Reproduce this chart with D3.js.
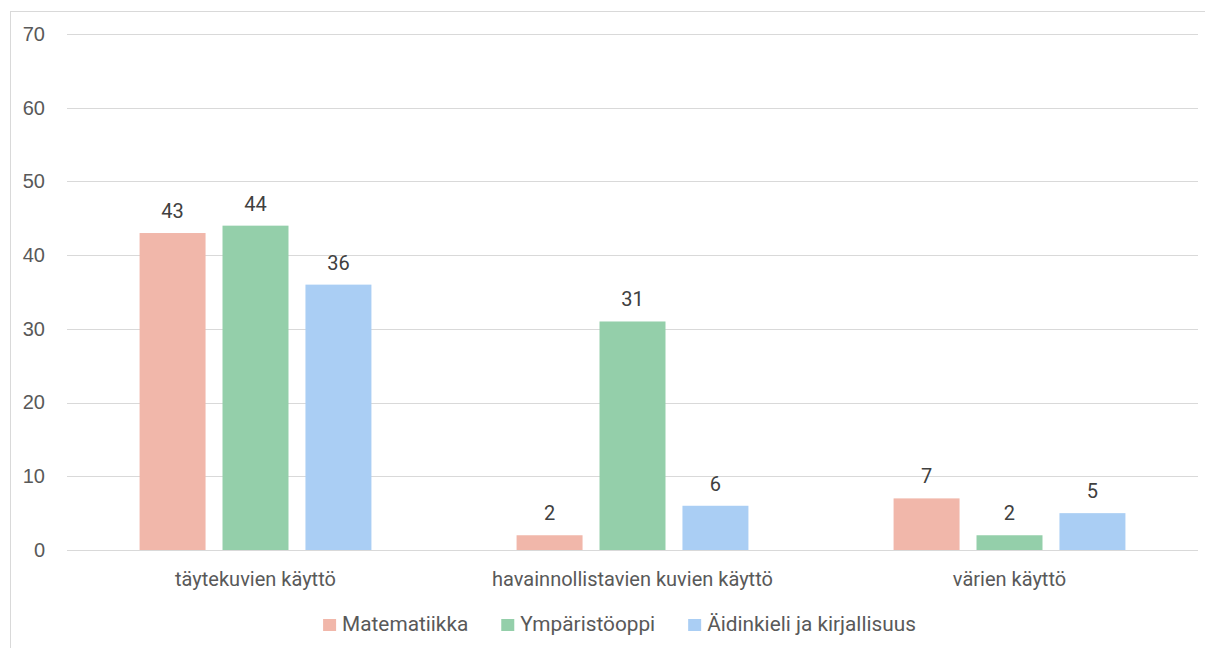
<!DOCTYPE html>
<html>
<head>
<meta charset="utf-8">
<script src="https://cdn.jsdelivr.net/npm/d3@7"></script>
<style>
  html, body { margin: 0; padding: 0; background: #fff; }
  svg { display: block; font-family: Roboto, "Noto Sans", sans-serif; }
</style>
</head>
<body>
<svg id="chart" width="1205" height="648"></svg>
<script>
// Categories and series
const categories = ["täytekuvien käyttö", "havainnollistavien kuvien käyttö", "värien käyttö"];
const seriesNames = ["Matematiikka", "Ympäristöoppi", "Äidinkieli ja kirjallisuus"];
const matematiikka = [43, 2, 7];
const ymparistooppi = [44, 31, 2];
const aidinkieli = [36, 6, 5];
const yTicks = [0, 10, 20, 30, 40, 50, 60, 70];
const colors = ["#F1B7AA", "#94CFAA", "#AACEF4"];

const seriesValues = [matematiikka, ymparistooppi, aidinkieli];
const data = categories.map((c, i) => ({
  category: c,
  values: seriesNames.map((s, j) => ({ series: s, value: seriesValues[j][i], idx: j }))
}));

const svg = d3.select("#chart");
const W = 1205, H = 648;
const margin = { left: 67, right: 7, top: 34, bottom: 98 };
const textColor = "#595959";
const fontSize = "20px";

// Chart frame
svg.append("rect")
  .attr("x", 10.5).attr("y", 11.5)
  .attr("width", W).attr("height", H)
  .attr("fill", "none").attr("stroke", "#D9D9D9").attr("stroke-width", 1);

const x0 = d3.scaleBand()
  .domain(categories)
  .range([margin.left, W - margin.right])
  .paddingInner(0)
  .paddingOuter(0);

const y = d3.scaleLinear()
  .domain([0, 70])
  .range([H - margin.bottom, margin.top]);

// Bars: 66px wide with 17px gaps inside each group
const bandW = x0.bandwidth();
const barW = bandW * 0.175;
const gapW = bandW * 0.045;
const groupW = 3 * barW + 2 * gapW;
const x1 = d3.scaleBand()
  .domain(d3.range(3))
  .range([0, groupW])
  .paddingInner(gapW / (barW + gapW))
  .paddingOuter(0);

// Gridlines and value axis
const yAxis = d3.axisLeft(y)
  .tickValues(yTicks)
  .tickSize(-(W - margin.right - margin.left))
  .tickPadding(22)
  .tickFormat(d3.format("d"));

const gAxis = svg.append("g")
  .attr("transform", `translate(${margin.left},0)`)
  .call(yAxis);
gAxis.select(".domain").remove();
gAxis.selectAll(".tick line")
  .attr("stroke", "#D9D9D9").attr("stroke-width", 1)
  .attr("shape-rendering", "crispEdges");
gAxis.selectAll(".tick text")
  .attr("fill", textColor)
  .attr("font-size", fontSize);

const groups = svg.append("g").selectAll("g")
  .data(data)
  .join("g")
  .attr("transform", d => `translate(${x0(d.category) + (bandW - groupW) / 2},0)`);

groups.selectAll("rect")
  .data(d => d.values)
  .join("rect")
  .attr("x", d => x1(d.idx))
  .attr("y", d => y(d.value))
  .attr("width", x1.bandwidth())
  .attr("height", d => y(0) - y(d.value))
  .attr("fill", d => colors[d.idx]);

groups.selectAll("text.value")
  .data(d => d.values)
  .join("text")
  .attr("class", "value")
  .attr("x", d => x1(d.idx) + x1.bandwidth() / 2)
  .attr("y", d => y(d.value) - 15)
  .attr("text-anchor", "middle")
  .attr("fill", "#404040")
  .attr("font-size", fontSize)
  .text(d => d.value);

// Baseline over bars
svg.append("line")
  .attr("x1", margin.left).attr("x2", W - margin.right)
  .attr("y1", y(0)).attr("y2", y(0))
  .attr("stroke", "#D9D9D9").attr("stroke-width", 1)
  .attr("shape-rendering", "crispEdges");

// Category labels
const gx = svg.append("g");
gx.selectAll("text")
  .data(categories)
  .join("text")
  .attr("x", d => x0(d) + bandW / 2)
  .attr("y", 586)
  .attr("text-anchor", "middle")
  .attr("fill", textColor)
  .attr("font-size", fontSize)
  .text(d => d);

// Legend, laid out left to right and centred
const legendBaseline = 631;
const swatch = 13, swatchGap = 6, itemGap = 33;
const lg = svg.append("g");
const items = lg.selectAll("g")
  .data(seriesNames)
  .join("g");
items.append("rect")
  .attr("x", 0).attr("y", legendBaseline - 12)
  .attr("width", swatch).attr("height", 12)
  .attr("fill", (d, i) => colors[i]);
items.append("text")
  .attr("x", swatch + swatchGap).attr("y", legendBaseline)
  .attr("fill", textColor)
  .attr("font-size", "20.8px")
  .text(d => d);
let cursor = 0;
const offsets = [];
items.each(function () {
  offsets.push(cursor);
  cursor += this.getBBox().width + itemGap;
});
const totalW = cursor - itemGap;
const legendCenter = 619.5;
items.attr("transform", (d, i) => `translate(${legendCenter - totalW / 2 + offsets[i]},0)`);
</script>
</body>
</html>
